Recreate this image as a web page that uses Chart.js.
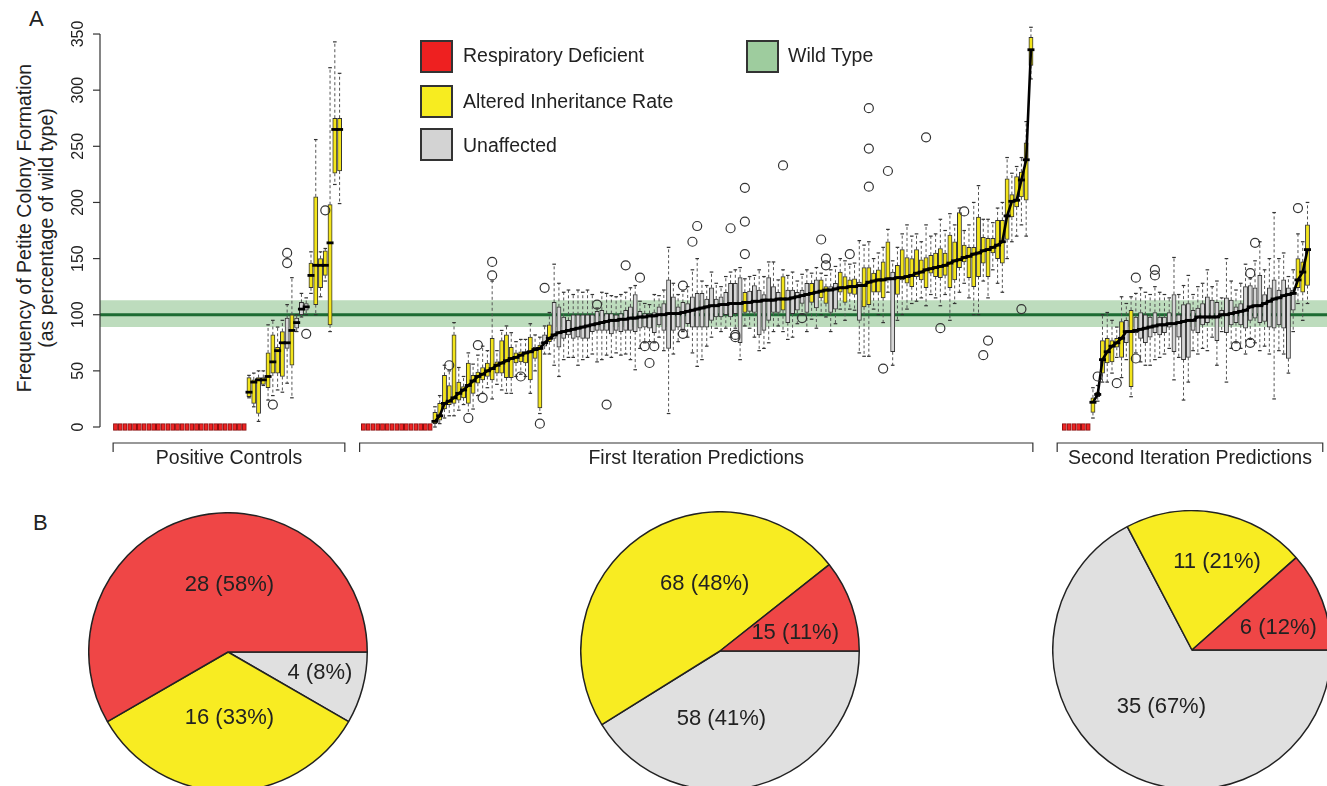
<!DOCTYPE html>
<html>
<head>
<meta charset="utf-8">
<script src="https://cdn.jsdelivr.net/npm/chart.js@4.4.1/dist/chart.umd.min.js"></script>
<style>
  body { margin:0; width:1327px; height:786px; overflow:hidden; background:#fff; position:relative;
         font-family:"Liberation Sans", Arial, sans-serif; color:#222; }
  #main { position:absolute; left:0; top:0; }
  .pie { position:absolute; }
  .panel { position:absolute; font-size:22px; line-height:22px; }
  .ytitle { position:absolute; width:420px; height:22px; line-height:22px; text-align:center;
            font-size:19.5px; transform:rotate(-90deg); white-space:nowrap; }
  .sw { position:absolute; width:33px; height:33px; box-sizing:border-box; border:2px solid #333; }
  .leg { position:absolute; font-size:19.5px; line-height:24px; white-space:nowrap; }
</style>
</head>
<body>

<div class="panel" style="left:29px; top:8px;">A</div>
<div class="panel" style="left:33px; top:512px;">B</div>
<div class="ytitle" style="left:-186px; top:217px;">Frequency of Petite Colony Formation</div>
<div class="ytitle" style="left:-164px; top:217px;">(as percentage of wild type)</div>

<canvas id="main" width="1327" height="480"></canvas>

<div class="sw" style="left:420px; top:40px; background:#ee2020;"></div>
<div class="leg" style="left:463px; top:43px;">Respiratory Deficient</div>
<div class="sw" style="left:420px; top:85px; background:#f7ec20;"></div>
<div class="leg" style="left:463px; top:89px;">Altered Inheritance Rate</div>
<div class="sw" style="left:420px; top:128px; background:#d3d3d3;"></div>
<div class="leg" style="left:463px; top:133px;">Unaffected</div>
<div class="sw" style="left:746px; top:40px; background:#9ecc9e;"></div>
<div class="leg" style="left:788px; top:43px;">Wild Type</div>

<canvas id="pie1" class="pie" width="280" height="280" style="left:88px; top:512px;"></canvas>
<canvas id="pie2" class="pie" width="280" height="280" style="left:580px; top:511px;"></canvas>
<canvas id="pie3" class="pie" width="280" height="280" style="left:1052px; top:510px;"></canvas>

<script>
// ─── Data ────────────────────────────────────────────────────────
const groupNames = ['Positive Controls', 'First Iteration Predictions', 'Second Iteration Predictions'];
const redCounts  = [28, 15, 6];          // respiratory deficient strains, drawn at 0
const yTicks     = [0, 50, 100, 150, 200, 250, 300, 350];
const wtValue    = 100;
const wtBandLo   = 89;
const wtBandHi   = 113;

// Positive controls (20 boxes, sorted by median)
const pcMed = [31,40,42,42,45,58,68,75,75,86,93,105,107,135,144,144,144,164,265,265];
const pcQ1  = [27,21,12,38,35,48,48,45,70,55,88,100,104,124,109,124,135,91,226,228];
const pcQ3  = [44,42,44,44,66,82,71,85,97,100,97,111,110,146,205,150,157,198,275,275];
const pcLo  = [26,18,5,37,24,28,33,31,39,26,85,98,100,119,100,116,130,85,216,199];
const pcHi  = [46,48,50,50,91,95,89,95,109,133,100,119,115,156,256,156,159,320,343,315];
const pcType = 'YYYYYYYYGY GGGYYYYYYY';
const pcOut = [[5,20],[8,155],[8,146],[12,83],[16,193]];

// First iteration predictions (126 boxes)
const fiMed = [5,10,21,23,26,30,33,37,41,45, 47,50,52,55,57,59,61,62,64,66,
  67,69,70,75,79,82,84,85,86,87, 88,89,90,91,92,93,94,95,95,96,
  96,97,97,98,98,99,99,100,100,101, 101,101,102,103,104,105,106,107,108,108,
  109,109,110,110,110,111,111,112,112,113, 113,113,114,114,114,115,116,117,118,119,
  120,121,122,122,123,124,124,125,125,126, 126,129,130,131,131,132,132,133,133,134,
  135,137,138,140,141,142,143,144,146,148, 149,151,152,154,155,157,158,160,162,165,
  188,201,202,220,238,336];
const fiQ1 = [3,6,16,20,21,24,26,21,30,39, 42,45,42,48,48,44,44,57,58,57,
  42,61,17,72,76,79,71,79,82,79, 80,79,79,85,86,86,86,83,86,85,
  86,86,85,88,89,88,84,91,86,70, 86,89,86,92,89,89,89,89,95,98,
  98,100,98,101,75,102,103,102,82,86, 95,102,102,104,93,101,104,110,102,111,
  106,115,110,102,105,120,111,119,118,95, 107,109,120,120,115,131,67,118,131,128,
  125,134,131,124,137,134,133,135,124,131, 142,147,133,125,134,146,134,155,150,146,
  167,187,196,205,202,322];
const fiQ3 = [13,21,46,37,82,40,36,57,46,49, 53,57,79,58,77,82,71,66,67,67,
  80,71,73,82,91,111,107,98,95,100, 100,100,100,100,103,104,101,101,100,101,
  104,107,118,103,101,101,102,107,110,131, 116,107,111,110,116,119,119,114,124,114,
  116,120,128,128,133,120,121,126,122,118, 133,125,120,134,122,122,120,122,128,128,
  131,131,125,125,128,138,134,131,132,129, 142,142,137,140,147,165,138,144,158,151,
  150,158,149,151,153,155,159,155,171,165, 191,162,160,160,187,169,168,168,184,184,
  221,207,223,227,253,347];
const fiLo = [0,3,8,10,10,15,20,12,16,28, 30,35,25,38,33,30,30,45,47,45,
  30,50,12,65,65,55,45,60,62,62, 55,60,62,65,58,60,64,62,66,64,
  65,60,51,70,75,76,75,80,68,12, 65,76,85,80,66,54,60,72,80,88,
  85,88,80,88,60,90,88,80,68,70, 75,85,90,85,78,80,92,100,85,96,
  88,100,98,85,92,105,95,105,104,66, 63,63,105,100,93,120,55,95,100,105,
  110,112,115,108,118,115,108,118,95,110, 120,128,115,100,100,130,115,140,128,120,
  150,165,170,180,170,310];
const fiHi = [18,28,55,50,93,53,45,66,56,64, 72,68,130,68,86,90,84,76,78,78,
  92,82,80,90,102,145,128,120,122,118, 122,120,122,118,106,120,119,117,116,118,
  120,124,126,112,110,109,118,117,122,160, 128,118,121,125,140,150,130,126,138,128,
  125,134,138,140,142,132,134,135,140,134, 147,147,131,140,135,138,130,136,140,137,
  142,137,135,140,143,150,148,145,146,166, 162,165,150,155,160,176,148,160,172,180,
  170,172,165,180,170,172,185,175,190,180, 195,175,180,200,215,185,185,182,195,200,
  240,226,232,240,272,356];
const fiType = 'YYYYYYYYYY YYYYYYYYYY YYYGYGGGGG GGGGGGGGGG GGGGGGGGGG GGGGGGGGGG ' +
               'GGGGGYGGGG GGGYGGGGGY GYYGGYYYYG YYYYYYGYYY YYYYYYYYYY YYYYYYYYYY YYYYYY';
const fiOut = [[3,55],[7,8],[9,73],[10,26],[12,147],[12,135],[18,45],[22,3],[23,124],[34,109],
  [36,20],[40,144],[43,133],[44,72],[45,57],[46,72],[52,126],[52,83],[54,165],[55,179],
  [62,177],[63,82],[63,80],[65,213],[65,183],[65,154],[73,233],[77,97],[81,167],[82,150],
  [82,144],[87,154],[91,284],[91,248],[91,214],[94,52],[95,228],[103,258],[106,88],[111,192],
  [115,64],[116,77],[123,105]];

// Second iteration predictions (46 boxes)
const siMed = [22,29,60,67,72,75,79,85,85,86, 87,88,89,90,91,91,92,92,93,94,
  95,95,98,98,98,98,98,100,100,101, 102,103,104,107,108,108,110,112,114,115,
  117,118,119,131,138,158];
const siQ1 = [13,27,48,57,58,71,62,75,36,84, 79,75,80,84,82,84,89,67,80,60,
  62,86,84,91,93,98,77,99,84,91, 93,91,88,95,97,93,94,89,88,91,
  88,61,104,124,120,126];
const siQ3 = [26,31,77,79,77,79,94,95,104,98, 102,100,98,102,98,98,102,118,100,109,
  110,104,106,110,116,113,111,104,115,113, 107,110,125,126,124,135,118,124,131,122,
  131,124,122,150,147,180];
const siLo = [8,23,40,40,48,62,44,60,27,66, 58,55,55,60,62,65,70,42,62,24,
  40,68,65,70,68,80,55,85,40,70, 75,70,65,78,75,68,72,65,25,68,
  65,48,85,110,95,110];
const siHi = [35,37,100,102,95,89,116,110,116,119, 124,120,118,125,120,118,115,151,118,126,
  135,118,125,128,140,125,130,115,150,130, 122,128,145,132,148,165,140,150,191,150,
  155,134,140,172,165,200];
const siType = 'YYYYYYYGYG GGGGGGGGGG GGGGGGGGGG GGGGGGGGGG GGGYYY';
const siOut = [[1,45],[5,39],[9,133],[9,61],[13,140],[13,135],[30,72],[33,137],[33,75],[34,164],[43,195]];

// Panel B: counts per group as [respiratory deficient, altered inheritance, unaffected]
const pieCounts = [[28, 16, 4], [15, 68, 58], [6, 11, 35]];

// ─── Layout / style ──────────────────────────────────────────────
const gapSlots   = [4, 6, 0];
const xMin = -3.25, xMax = 254.09;       // slot range across canvas (axis at left)
const yMin = -47.2, yMax = 380.3;
const groupSpans = [[-0.5, 48.1], [51.2, 192.4], [197.5, 253.2]];
const redHalf = 3;
const colRed = '#ee2424', colYellow = '#f3e51c', colGrey = '#d6d6d6';
const pieColors = ['#ef4646', '#f8ec22', '#e0e0e0'];
// label offsets (in radius units) for each slice, same order as pieCounts
const pieLabelPos = [
  [[0.01, -0.48], [0.01, 0.47], [0.66, 0.15]],
  [[0.54, -0.13], [-0.11, -0.48], [0.01, 0.49]],
  [[0.62, -0.16], [0.18, -0.63], [-0.22, 0.41]]
];
const fontFam = '"Liberation Sans", Arial, sans-serif';
Chart.defaults.font.family = fontFam;

const groups = [
  { med: pcMed, q1: pcQ1, q3: pcQ3, lo: pcLo, hi: pcHi, type: pcType.replace(/ /g, ''), out: pcOut, connect: false },
  { med: fiMed, q1: fiQ1, q3: fiQ3, lo: fiLo, hi: fiHi, type: fiType.replace(/ /g, ''), out: fiOut, connect: true },
  { med: siMed, q1: siQ1, q3: siQ3, lo: siLo, hi: siHi, type: siType.replace(/ /g, ''), out: siOut, connect: true }
];

// ─── Build datasets ──────────────────────────────────────────────
const boxes = [], boxFill = [], boxLine = [];
const whisk = [], caps = [], meds = [], medLine = [], outs = [];
let start = 0;
groups.forEach((g, gi) => {
  const red = redCounts[gi];
  for (let r = 0; r < red; r++) {
    boxes.push({ x: start + r, y: [-redHalf, redHalf] });
    boxFill.push(colRed);
    boxLine.push('#8a1010');
  }
  g.med.forEach((m, i) => {
    const x = start + red + i;
    boxes.push({ x, y: [g.q1[i], g.q3[i]] });
    boxFill.push(g.type[i] === 'Y' ? colYellow : colGrey);
    boxLine.push('#333');
    whisk.push({ x, y: g.q3[i] }, { x, y: g.hi[i] }, { x, y: null },
               { x, y: g.q1[i] }, { x, y: g.lo[i] }, { x, y: null });
    caps.push({ x, y: g.lo[i] }, { x, y: g.hi[i] });
    meds.push({ x, y: m });
    if (g.connect) medLine.push({ x, y: m });
  });
  if (g.connect) medLine.push({ x: start + red + g.med.length - 1, y: null });
  g.out.forEach(([i, v]) => outs.push({ x: start + red + i, y: v }));
  start += red + g.med.length + gapSlots[gi];
});

const wtLine = [{ x: xMin, y: wtValue }, { x: xMax, y: wtValue }];
const wtBand = [{ x: xMin, y: wtBandHi }, { x: xMax, y: wtBandHi }];

// ─── Axis + group brackets plugin ────────────────────────────────
const axisPlugin = {
  id: 'axisPlugin',
  afterDraw(chart) {
    const ctx = chart.ctx, ys = chart.scales.y, xs = chart.scales.x;
    const x0 = chart.chartArea.left;
    ctx.save();
    ctx.strokeStyle = '#333';
    ctx.lineWidth = 1.2;
    ctx.beginPath();
    ctx.moveTo(x0, ys.getPixelForValue(yTicks[0]));
    ctx.lineTo(x0, ys.getPixelForValue(yTicks[yTicks.length - 1]));
    ctx.stroke();
    ctx.fillStyle = '#222';
    ctx.font = '16px ' + fontFam;
    yTicks.forEach(v => {
      const py = ys.getPixelForValue(v);
      ctx.beginPath();
      ctx.moveTo(x0 - 7, py);
      ctx.lineTo(x0, py);
      ctx.stroke();
      ctx.save();
      ctx.translate(x0 - 17, py);
      ctx.rotate(-Math.PI / 2);
      ctx.textAlign = 'center';
      ctx.textBaseline = 'alphabetic';
      ctx.fillText(String(v), 0, 0);
      ctx.restore();
    });

    // group brackets
    ctx.font = '19.5px ' + fontFam;
    ctx.textAlign = 'center';
    ctx.textBaseline = 'middle';
    groupSpans.forEach((s, i) => {
      const a = xs.getPixelForValue(s[0]), b = xs.getPixelForValue(s[1]);
      ctx.beginPath();
      ctx.moveTo(a, 452);
      ctx.lineTo(a, 443);
      ctx.lineTo(b, 443);
      ctx.lineTo(b, 452);
      ctx.stroke();
      ctx.fillText(groupNames[i], (a + b) / 2, 459);
    });
    ctx.restore();
  }
};

new Chart(document.getElementById('main'), {
  type: 'bar',
  data: {
    datasets: [
      { type: 'scatter', data: outs, order: 0, pointStyle: 'circle', pointRadius: 4.5,
        pointBorderWidth: 1.2, pointBorderColor: '#333', pointBackgroundColor: 'rgba(0,0,0,0)' },
      { type: 'line', data: medLine, order: 1, borderColor: '#000', borderWidth: 2.6,
        pointRadius: 0, spanGaps: false, fill: false },
      { type: 'scatter', data: meds, order: 2, pointStyle: 'line', pointRadius: 3.5,
        pointBorderWidth: 2.8, pointBorderColor: '#000' },
      { type: 'bar', data: boxes, order: 3, backgroundColor: boxFill, borderColor: boxLine,
        borderWidth: 1, barThickness: 4.2, borderSkipped: false, grouped: false },
      { type: 'scatter', data: caps, order: 4, pointStyle: 'line', pointRadius: 1.8,
        pointBorderWidth: 1.2, pointBorderColor: '#333' },
      { type: 'line', data: whisk, order: 5, borderColor: '#555', borderWidth: 1,
        borderDash: [3, 2.5], pointRadius: 0, spanGaps: false, fill: false },
      { type: 'line', data: wtLine, order: 6, borderColor: '#1d6b33', borderWidth: 3,
        pointRadius: 0, fill: false },
      { type: 'line', data: wtBand, order: 7, borderWidth: 0, borderColor: 'rgba(0,0,0,0)',
        backgroundColor: '#bddcbd', fill: { value: wtBandLo }, pointRadius: 0 }
    ]
  },
  options: {
    responsive: false,
    animation: false,
    events: [],
    layout: { autoPadding: false, padding: { left: 100, top: 0, right: 0, bottom: 0 } },
    plugins: { legend: { display: false }, tooltip: { enabled: false } },
    scales: {
      x: { type: 'linear', min: xMin, max: xMax, display: false, offset: false },
      y: { type: 'linear', min: yMin, max: yMax, display: false }
    }
  },
  plugins: [axisPlugin]
});

// ─── Pies ────────────────────────────────────────────────────────
const pieLabelPlugin = {
  id: 'pieLabels',
  afterDatasetsDraw(chart) {
    const ctx = chart.ctx;
    const meta = chart.getDatasetMeta(0);
    const info = chart.options.plugins.pieLabels;
    ctx.save();
    ctx.font = '22px ' + fontFam;
    ctx.fillStyle = '#222';
    ctx.textAlign = 'center';
    ctx.textBaseline = 'middle';
    meta.data.forEach((arc, k) => {
      const idx = info.order[k];
      const p = info.pos[idx];
      ctx.fillText(info.text[idx], arc.x + p[0] * arc.outerRadius, arc.y + p[1] * arc.outerRadius);
    });
    ctx.restore();
  }
};

pieCounts.forEach((counts, gi) => {
  const total = counts.reduce((a, b) => a + b, 0);
  const text = counts.map(n => n + ' (' + Math.round(100 * n / total) + '%)');
  // R draws counter-clockwise from 3 o'clock; Chart.js goes clockwise, so reverse
  const order = [2, 1, 0];
  new Chart(document.getElementById('pie' + (gi + 1)), {
    type: 'pie',
    data: {
      datasets: [{
        data: order.map(k => counts[k]),
        backgroundColor: order.map(k => pieColors[k]),
        borderColor: '#222',
        borderWidth: 1.5,
        hoverOffset: 0
      }]
    },
    options: {
      responsive: false,
      animation: false,
      events: [],
      rotation: 90,
      layout: { padding: 0 },
      plugins: {
        legend: { display: false },
        tooltip: { enabled: false },
        pieLabels: { order, pos: pieLabelPos[gi], text }
      }
    },
    plugins: [pieLabelPlugin]
  });
});
</script>
</body>
</html>
